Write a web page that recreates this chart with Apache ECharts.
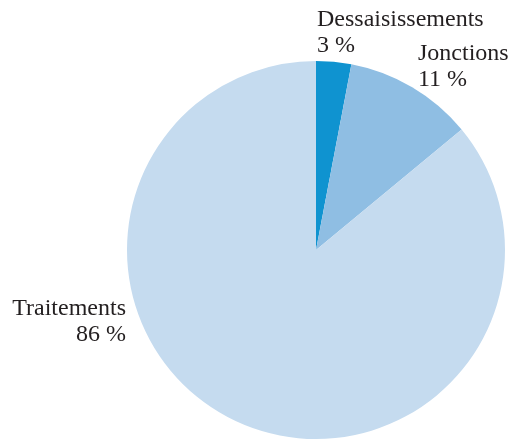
<!DOCTYPE html>
<html>
<head>
<meta charset="utf-8">
<style>
  html, body { margin: 0; padding: 0; background: #ffffff; }
  #chart { width: 512px; height: 440px; }
</style>
<script src="https://cdn.jsdelivr.net/npm/echarts@6/dist/echarts.min.js"></script>
</head>
<body>
<div id="chart"></div>
<script>
// Share of cases by outcome (percent)
var categories = ['Dessaisissements', 'Jonctions', 'Traitements'];
var shares = [3, 11, 86];
var sliceColors = ['#0f93d0', '#8fbee3', '#c5dbef'];

// Where each label block sits (left/right anchor, top edge)
var labelSpots = [
  { x: 317, y: 7, align: 'left' },
  { x: 418, y: 41, align: 'left' },
  { x: 126, y: 296, align: 'right' }
];

var chart = echarts.init(document.getElementById('chart'), null, { renderer: 'canvas' });

chart.setOption({
  animation: false,
  backgroundColor: '#ffffff',
  series: [{
    type: 'pie',
    center: [316, 250],
    radius: [0, 189],
    startAngle: 90,
    clockwise: true,
    avoidLabelOverlap: false,
    silent: true,
    itemStyle: { borderWidth: 0 },
    label: {
      show: true,
      position: 'outside',
      fontFamily: 'Liberation Serif',
      fontSize: 24,
      lineHeight: 26,
      color: '#231f20',
      formatter: function (p) { return p.name + '\n' + p.value + ' %'; }
    },
    labelLine: { show: false },
    labelLayout: function (params) {
      var s = labelSpots[params.dataIndex];
      return { x: s.x, y: s.y, align: s.align, verticalAlign: 'top' };
    },
    data: categories.map(function (name, i) {
      return {
        name: name,
        value: shares[i],
        itemStyle: { color: sliceColors[i] },
        label: { align: labelSpots[i].align }
      };
    })
  }]
});
</script>
</body>
</html>
